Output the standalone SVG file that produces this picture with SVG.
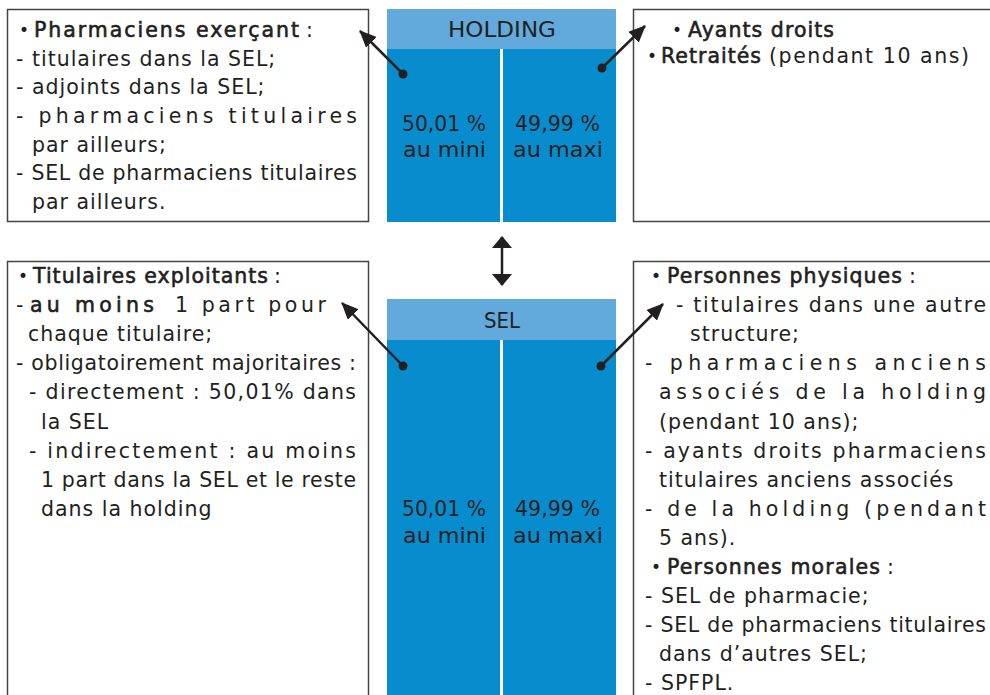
<svg xmlns="http://www.w3.org/2000/svg" width="990" height="695" viewBox="0 0 990 695">
  <defs>
    <style>
      .t { font-family: "DejaVu Sans", "Liberation Sans", sans-serif; font-size: 20.5px; letter-spacing: 1px; fill: #231f20; }
      .b { stroke: #231f20; stroke-width: 0.6px; }
      .bu { font-family: "DejaVu Sans", "Liberation Sans", sans-serif; font-size: 17px; fill: #231f20; }
      .blk { font-family: "DejaVu Sans", "Liberation Sans", sans-serif; font-size: 21px; fill: #231f20; }
      .box { fill: #ffffff; stroke: #444444; stroke-width: 1.5; }
      .hdr { fill: #62a9dc; }
      .body { fill: #078dce; }
      .div { stroke: #ffffff; stroke-width: 3; }
      .con { stroke: #231f20; stroke-width: 2.5; fill: none; }
      .dot { fill: #231f20; }
    </style>
    <marker id="ah" markerUnits="userSpaceOnUse" markerWidth="17" markerHeight="15" refX="16" refY="7.5" orient="auto">
      <path d="M0,0 L17,7.5 L0,15 z" fill="#231f20"/>
    </marker>
    <marker id="ah2" markerUnits="userSpaceOnUse" markerWidth="12" markerHeight="20" refX="11" refY="10" orient="auto-start-reverse">
      <path d="M0,0 L12,10 L0,20 z" fill="#231f20"/>
    </marker>
  </defs>
  <rect width="990" height="695" fill="#ffffff"/>

  <g id="box-pharmaciens">
    <rect class="box" x="7.5" y="9.5" width="361" height="212"/>
    <text class="bu" x="19" y="36">•</text>
    <text class="t b" x="34" y="37" textLength="266" lengthAdjust="spacing">Pharmaciens exerçant</text>
    <text class="t" x="306" y="37">:</text>
    <text class="t" x="16" y="65.7">- titulaires dans la SEL;</text>
    <text class="t" x="16" y="94.3">- adjoints dans la SEL;</text>
    <text class="t" x="16" y="123" textLength="342" lengthAdjust="spacing">- pharmaciens titulaires</text>
    <text class="t" x="32" y="151.7">par ailleurs;</text>
    <text class="t" x="16" y="180.3" textLength="342" lengthAdjust="spacing">- SEL de pharmaciens titulaires</text>
    <text class="t" x="32" y="209">par ailleurs.</text>
  </g>

  <g id="holding">
    <rect class="body" x="387" y="9" width="229" height="213"/>
    <rect class="hdr" x="387" y="9" width="229" height="40"/>
    <line class="div" x1="501.5" y1="49" x2="501.5" y2="222"/>
    <text class="blk" x="448" y="37" textLength="108" lengthAdjust="spacingAndGlyphs">HOLDING</text>
    <text class="blk" x="402" y="131" textLength="84" lengthAdjust="spacingAndGlyphs">50,01 %</text>
    <text class="blk" x="403" y="157" textLength="83" lengthAdjust="spacingAndGlyphs">au mini</text>
    <text class="blk" x="515" y="131" textLength="85" lengthAdjust="spacingAndGlyphs">49,99 %</text>
    <text class="blk" x="513" y="157" textLength="90" lengthAdjust="spacingAndGlyphs">au maxi</text>
  </g>

  <g id="box-ayants">
    <rect class="box" x="633.5" y="9.5" width="360" height="212"/>
    <text class="bu" x="672" y="36">•</text>
    <text class="t b" x="688" y="37" textLength="147" lengthAdjust="spacing">Ayants droits</text>
    <text class="bu" x="647" y="62">•</text>
    <text class="t b" x="661" y="63">Retraités</text>
    <text class="t" x="769" y="63" textLength="201" lengthAdjust="spacing">(pendant 10 ans)</text>
  </g>

  <g id="sel">
    <rect class="body" x="387" y="299" width="229" height="400"/>
    <rect class="hdr" x="387" y="299" width="229" height="41"/>
    <line class="div" x1="501.5" y1="340" x2="501.5" y2="699"/>
    <text class="blk" x="484" y="328" textLength="36" lengthAdjust="spacingAndGlyphs">SEL</text>
    <text class="blk" x="402" y="516" textLength="84" lengthAdjust="spacingAndGlyphs">50,01 %</text>
    <text class="blk" x="403" y="543" textLength="83" lengthAdjust="spacingAndGlyphs">au mini</text>
    <text class="blk" x="515" y="516" textLength="85" lengthAdjust="spacingAndGlyphs">49,99 %</text>
    <text class="blk" x="513" y="543" textLength="90" lengthAdjust="spacingAndGlyphs">au maxi</text>
  </g>

  <g id="box-titulaires">
    <rect class="box" x="7.5" y="261.5" width="361" height="440"/>
    <text class="bu" x="18" y="282">•</text>
    <text class="t b" x="33" y="283" textLength="236" lengthAdjust="spacing">Titulaires exploitants</text>
    <text class="t" x="274" y="283">:</text>
    <text class="t" x="16" y="312.1">-</text>
    <text class="t b" x="30" y="312.1" textLength="125" lengthAdjust="spacing">au moins</text>
    <text class="t" x="175" y="312.1" textLength="152" lengthAdjust="spacing">1 part pour</text>
    <text class="t" x="28" y="341.2">chaque titulaire;</text>
    <text class="t" x="16" y="370.3" textLength="341" lengthAdjust="spacing">- obligatoirement majoritaires :</text>
    <text class="t" x="29" y="399.4" textLength="328" lengthAdjust="spacing">- directement : 50,01% dans</text>
    <text class="t" x="41" y="428.5">la SEL</text>
    <text class="t" x="29" y="457.6" textLength="328" lengthAdjust="spacing">- indirectement : au moins</text>
    <text class="t" x="41" y="486.7" textLength="316" lengthAdjust="spacing">1 part dans la SEL et le reste</text>
    <text class="t" x="41" y="515.8">dans la holding</text>
  </g>

  <g id="box-personnes">
    <rect class="box" x="633.5" y="261.5" width="360" height="440"/>
    <text class="bu" x="651" y="282">•</text>
    <text class="t b" x="667" y="283" textLength="236" lengthAdjust="spacing">Personnes physiques</text>
    <text class="t" x="909" y="283">:</text>
    <text class="t" x="676" y="312.1" textLength="311" lengthAdjust="spacing">- titulaires dans une autre</text>
    <text class="t" x="690" y="341.2">structure;</text>
    <text class="t" x="645" y="370.3" textLength="342" lengthAdjust="spacing">- pharmaciens anciens</text>
    <text class="t" x="659" y="399.4" textLength="328" lengthAdjust="spacing">associés de la holding</text>
    <text class="t" x="659" y="428.5">(pendant 10 ans);</text>
    <text class="t" x="645" y="457.6" textLength="342" lengthAdjust="spacing">- ayants droits pharmaciens</text>
    <text class="t" x="659" y="486.7">titulaires anciens associés</text>
    <text class="t" x="645" y="515.8" textLength="342" lengthAdjust="spacing">- de la holding (pendant</text>
    <text class="t" x="659" y="544.9">5 ans).</text>
    <text class="bu" x="651" y="573">•</text>
    <text class="t b" x="667" y="574" textLength="214" lengthAdjust="spacing">Personnes morales</text>
    <text class="t" x="887" y="574">:</text>
    <text class="t" x="645" y="603.1">- SEL de pharmacie;</text>
    <text class="t" x="645" y="632.2" textLength="342" lengthAdjust="spacing">- SEL de pharmaciens titulaires</text>
    <text class="t" x="659" y="661.3">dans d’autres SEL;</text>
    <text class="t" x="645" y="690.4">- SPFPL.</text>
  </g>

  <g id="connectors">
    <line class="con" x1="403" y1="74" x2="360" y2="31" marker-end="url(#ah)"/>
    <circle class="dot" cx="403" cy="74" r="4.5"/>
    <line class="con" x1="602" y1="68" x2="645" y2="26" marker-end="url(#ah)"/>
    <circle class="dot" cx="602" cy="68" r="4.5"/>
    <line class="con" x1="403" y1="366" x2="342" y2="303" marker-end="url(#ah)"/>
    <circle class="dot" cx="403" cy="366" r="4.5"/>
    <line class="con" x1="601" y1="366" x2="663" y2="304" marker-end="url(#ah)"/>
    <circle class="dot" cx="601" cy="366" r="4.5"/>
    <line class="con" x1="502" y1="237" x2="502" y2="285" marker-start="url(#ah2)" marker-end="url(#ah2)"/>
  </g>
</svg>
